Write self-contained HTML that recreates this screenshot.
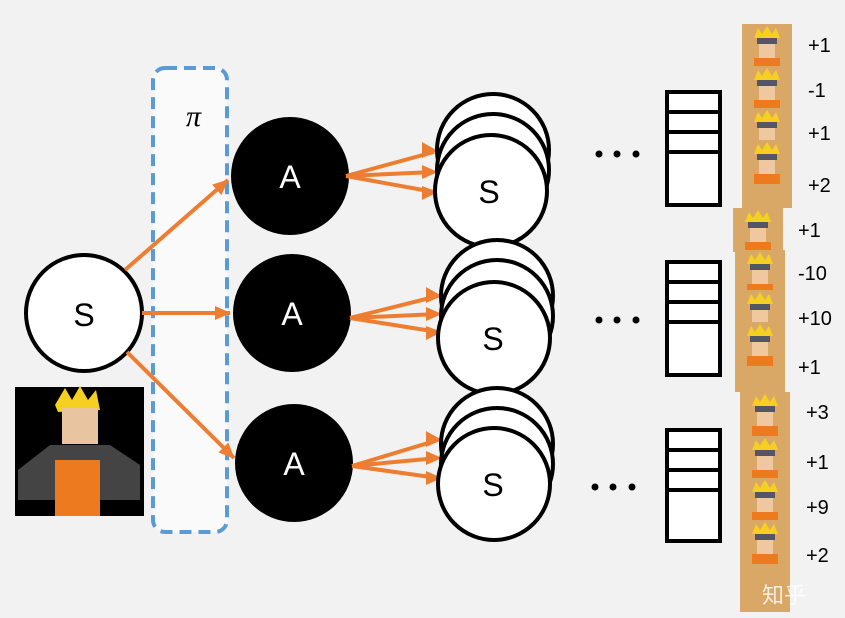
<!DOCTYPE html>
<html><head><meta charset="utf-8"><style>
html,body{margin:0;padding:0;background:#f2f2f2;}
svg{display:block;font-family:"Liberation Sans","Noto Sans CJK SC",sans-serif;}
</style></head><body>
<svg width="845" height="618" viewBox="0 0 845 618" xmlns="http://www.w3.org/2000/svg">
<defs>
<marker id="ah" markerWidth="8" markerHeight="8" refX="7" refY="4" orient="auto" markerUnits="userSpaceOnUse" viewBox="0 0 8 8">
<path d="M0,0 L8,4 L0,8 z" fill="#ed7d31"/></marker>
<marker id="ah2" markerWidth="16" markerHeight="14" refX="15" refY="7" orient="auto" markerUnits="userSpaceOnUse">
<path d="M0,0 L16,7 L0,14 z" fill="#ed7d31"/></marker>
<g id="por">
<rect x="0" y="0" width="50" height="44" fill="#d9a866"/>
<path d="M12,14 L16,4 L20,10 L25,2 L30,10 L34,4 L38,14 Z" fill="#f5d020"/>
<rect x="15" y="14" width="20" height="6" fill="#556"/>
<rect x="17" y="20" width="16" height="14" fill="#f0c8a0"/>
<rect x="12" y="34" width="26" height="10" fill="#ee7a20"/>
</g>
</defs>
<rect width="845" height="618" fill="#f2f2f2"/>
<rect x="153" y="68" width="74" height="464" rx="12" fill="#fafafa" stroke="#5b9bd5" stroke-width="4" stroke-dasharray="12,7"/>
<text x="186" y="126" font-size="30" font-style="italic" font-family="Liberation Serif,serif">π</text>
<!-- S -->
<circle cx="84" cy="313" r="58" fill="#fff" stroke="#000" stroke-width="4"/>
<text x="84" y="326" font-size="32" text-anchor="middle">S</text>
<!-- naruto pic -->
<rect x="15" y="387" width="129" height="129" fill="#000"/>
<path d="M55,405 L65,388 L72,400 L80,386 L88,400 L96,390 L100,410 L58,412Z" fill="#f5d020"/>
<rect x="62" y="408" width="36" height="36" fill="#e8c4a0"/>
<path d="M18,470 L50,445 L110,445 L140,465 L140,500 L18,500Z" fill="#444"/>
<rect x="55" y="460" width="45" height="56" fill="#ee7a20"/>
<!-- arrows S->A -->
<g stroke="#ed7d31" stroke-width="4" fill="none">
<line x1="125" y1="270" x2="228" y2="180" marker-end="url(#ah2)"/>
<line x1="142" y1="313" x2="230" y2="313" marker-end="url(#ah2)"/>
<line x1="127" y1="352" x2="234" y2="458" marker-end="url(#ah2)"/>
</g>
<!-- A nodes -->
<g fill="#000"><circle cx="290" cy="176" r="59"/><circle cx="292" cy="313" r="59"/><circle cx="294" cy="463" r="59"/></g>
<g fill="#fff" font-size="32" text-anchor="middle">
<text x="290" y="188">A</text><text x="292" y="325">A</text><text x="294" y="475">A</text></g>
<!-- fans -->
<g stroke="#ed7d31" stroke-width="4" fill="none">
<path d="M346,176 L434,152 M346,176 L434,172 M346,176 L434,192"/>
<path d="M350,318 L438,296 M350,318 L438,314 M350,318 L438,332"/>
<path d="M352,466 L438,440 M352,466 L438,458 M352,466 L438,478"/>
</g>
<g fill="#ed7d31">
<path d="M422,142 L438,151 L422,158Z M422,165 L438,172 L422,179Z M422,186 L438,192 L422,200Z"/>
<path d="M426,287 L442,296 L426,303Z M426,307 L442,314 L426,321Z M426,326 L442,332 L426,340Z"/>
<path d="M426,431 L442,440 L426,447Z M426,451 L442,458 L426,465Z M426,471 L442,478 L426,485Z"/>
</g>
<!-- stacked S -->
<g fill="#fff" stroke="#000" stroke-width="4">
<circle cx="493" cy="150" r="56"/><circle cx="493" cy="170" r="56"/><circle cx="491" cy="191" r="56"/>
<circle cx="497" cy="296" r="56"/><circle cx="497" cy="316" r="56"/><circle cx="494" cy="338" r="56"/>
<circle cx="497" cy="444" r="56"/><circle cx="497" cy="464" r="56"/><circle cx="494" cy="484" r="56"/>
</g>
<g font-size="32" text-anchor="middle">
<text x="489" y="203">S</text><text x="493" y="350">S</text><text x="493" y="496">S</text></g>
<!-- dots -->
<g fill="#000">
<circle cx="599" cy="154" r="3.5"/><circle cx="617" cy="154" r="3.5"/><circle cx="636" cy="154" r="3.5"/>
<circle cx="599" cy="320" r="3.5"/><circle cx="617" cy="320" r="3.5"/><circle cx="636" cy="320" r="3.5"/>
<circle cx="595" cy="487" r="3.5"/><circle cx="613" cy="487" r="3.5"/><circle cx="632" cy="487" r="3.5"/>
</g>
<!-- rect stacks -->
<g fill="#fff" stroke="#000" stroke-width="4">
<rect x="667" y="92" width="53" height="113"/>
<path d="M667,112 H720 M667,132 H720 M667,152 H720"/>
<rect x="667" y="262" width="53" height="113"/>
<path d="M667,282 H720 M667,302 H720 M667,322 H720"/>
<rect x="667" y="430" width="53" height="111"/>
<path d="M667,450 H720 M667,470 H720 M667,490 H720"/>
</g>
<!-- portraits -->
<use href="#por" x="742" y="24"/><use href="#por" x="742" y="66"/><use href="#por" x="742" y="108"/>
<use href="#por" x="742" y="140" transform="translate(0,0)"/><rect x="742" y="184" width="50" height="24" fill="#d9a866"/>
<use href="#por" x="733" y="208"/><use href="#por" x="735" y="250"/><use href="#por" x="735" y="290"/>
<use href="#por" x="735" y="322"/><rect x="735" y="366" width="50" height="26" fill="#d9a866"/>
<use href="#por" x="740" y="392"/><use href="#por" x="740" y="436"/><use href="#por" x="740" y="478"/>
<use href="#por" x="740" y="520"/><rect x="740" y="564" width="50" height="48" fill="#d9a866"/>
<g font-size="20" fill="#000">
<text x="808" y="52">+1</text><text x="808" y="97">-1</text><text x="808" y="140">+1</text><text x="808" y="192">+2</text>
<text x="798" y="237">+1</text><text x="798" y="280">-10</text><text x="798" y="325">+10</text><text x="798" y="374">+1</text>
<text x="806" y="419">+3</text><text x="806" y="469">+1</text><text x="806" y="514">+9</text><text x="806" y="562">+2</text>
</g>
<text x="762" y="603" font-size="22" fill="#fff" opacity="0.8">知乎</text>
</svg>
</body></html>
